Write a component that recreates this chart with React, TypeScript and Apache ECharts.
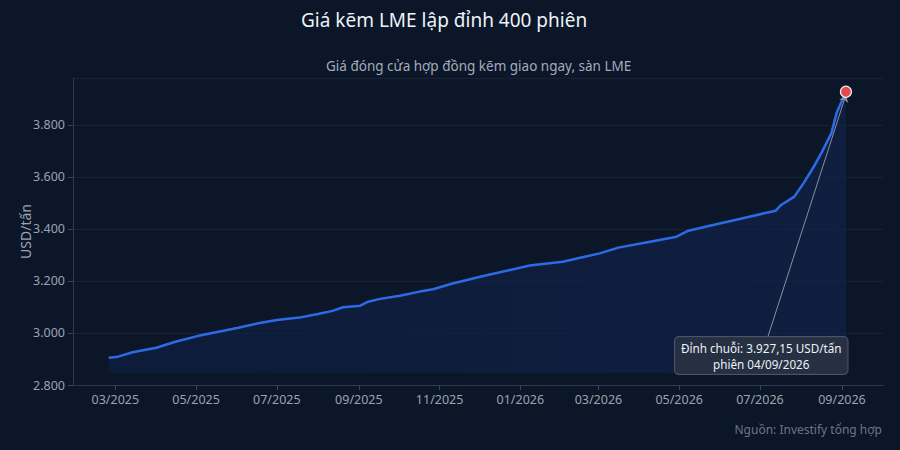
import React, { useEffect, useRef } from "react";
import * as echarts from "echarts";

const FONT = "'Noto Sans', 'Open Sans', sans-serif";
const BG = "#0b1628";
const LINE_COLOR = "#2f6ae6";

const TITLE = "Giá kẽm LME lập đỉnh 400 phiên";
const SUBTITLE = "Giá đóng cửa hợp đồng kẽm giao ngay, sàn LME";
const SOURCE = "Nguồn: Investify tổng hợp";
const Y_NAME = "USD/tấn";

// phiên (ngày) và giá đóng cửa
const DATES = [
    "2025-02-24", "2025-03-03", "2025-03-14", "2025-04-01", "2025-04-16",
    "2025-05-02", "2025-05-16", "2025-06-02", "2025-06-16", "2025-07-01",
    "2025-07-18", "2025-08-01", "2025-08-12", "2025-08-20", "2025-09-02",
    "2025-09-08", "2025-09-17", "2025-10-02", "2025-10-17", "2025-10-27",
    "2025-11-10", "2025-12-04", "2026-01-08", "2026-02-02", "2026-03-02",
    "2026-03-16", "2026-04-09", "2026-04-29", "2026-05-08", "2026-05-25",
    "2026-06-23", "2026-07-13", "2026-07-17", "2026-07-27", "2026-08-03",
    "2026-08-10", "2026-08-17", "2026-08-24", "2026-08-28", "2026-09-04",
];
const PRICES = [
    2905, 2909, 2926, 2943, 2967,
    2988, 3003, 3020, 3036, 3050,
    3059, 3073, 3085, 3099, 3105,
    3120, 3131, 3143, 3159, 3168,
    3189, 3219, 3259, 3274, 3306,
    3328, 3351, 3370, 3393, 3413,
    3447, 3470, 3492, 3524, 3576,
    3633, 3697, 3768, 3846, 3927.15,
];

const X_TICKS = [
    "2025-03-01", "2025-05-01", "2025-07-01", "2025-09-01", "2025-11-01",
    "2026-01-01", "2026-03-01", "2026-05-01", "2026-07-01", "2026-09-01",
];
const X_MIN = "2025-01-28";
const X_MAX = "2026-10-02";
const Y_MIN = 2800;
const Y_MAX = 3980;
const Y_STEP = 200;
const FILL_BASE = 2847;

const PEAK_DATE = "2026-09-04";
const PEAK_VALUE = 3927.15;
const NOTE_LINES = ["Đỉnh chuỗi: 3.927,15 USD/tấn", "phiên 04/09/2026"];
const NOTE_AT: [string, number] = ["2026-07-02", 2913];
const ARROW_FROM: [string, number] = ["2026-07-07", 2985];

const ts = (d: string) => new Date(d + "T00:00:00Z").getTime();

function fmtNum(v: number) {
    return String(Math.round(v)).replace(/\B(?=(\d{3})+(?!\d))/g, ".");
}

function fmtMonth(v: number) {
    const d = new Date(v + 12 * 3600 * 1000);
    const m = String(d.getUTCMonth() + 1).padStart(2, "0");
    return `${m}/${d.getUTCFullYear()}`;
}

const App: React.FC = () => {
    const ref = useRef<HTMLDivElement | null>(null);

    useEffect(() => {
        if (!ref.current) return;
        const inst = echarts.init(ref.current, undefined, { renderer: "svg" });
        const series = DATES.map((d, i) => [ts(d), PRICES[i]]);
        const tickVals = X_TICKS.map(ts);

        inst.setOption({
            animation: false,
            backgroundColor: BG,
            textStyle: { fontFamily: FONT },
            title: [
                {
                    text: TITLE,
                    left: 296,
                    top: 5,
                    textStyle: { color: "#eef2f7", fontSize: 19, fontWeight: 400, fontFamily: FONT },
                },
                {
                    text: SUBTITLE,
                    left: 321,
                    top: 54,
                    textStyle: { color: "#a3acbb", fontSize: 13.5, fontWeight: 400, fontFamily: FONT },
                },
                {
                    text: SOURCE,
                    right: 13,
                    top: 418,
                    textStyle: { color: "#6b7588", fontSize: 12, fontWeight: 400, fontFamily: FONT },
                },
            ],
            grid: { left: 73, right: 17, top: 78, bottom: 65 },
            xAxis: {
                type: "value",
                min: ts(X_MIN),
                max: ts(X_MAX),
                axisLine: { show: true, lineStyle: { color: "#2c384c" } },
                axisTick: { show: true, customValues: tickVals, length: 5, lineStyle: { color: "#3a465a" } },
                axisLabel: {
                    customValues: tickVals,
                    formatter: (v: number) => fmtMonth(v),
                    color: "#9aa3b2",
                    fontSize: 12.5,
                    margin: 8,
                    showMinLabel: true,
                    showMaxLabel: true,
                },
                splitLine: { show: false },
            },
            yAxis: {
                type: "value",
                min: Y_MIN,
                max: Y_MAX,
                interval: Y_STEP,
                name: Y_NAME,
                nameLocation: "middle",
                nameGap: 41,
                nameMoveOverlap: false,
                nameTextStyle: { color: "#9aa3b2", fontSize: 14, fontFamily: FONT },
                axisLine: { show: true, lineStyle: { color: "#2c384c" } },
                axisTick: { show: true, length: 5, lineStyle: { color: "#3a465a" } },
                axisLabel: {
                    color: "#9aa3b2",
                    fontSize: 12.5,
                    margin: 8,
                    showMaxLabel: false,
                    formatter: (v: number) => (v >= Y_MAX ? "" : fmtNum(v)),
                },
                splitLine: { show: true, lineStyle: { color: "#162236", width: 1 } },
            },
            series: [
                {
                    type: "line",
                    data: series,
                    showSymbol: false,
                    smooth: false,
                    lineStyle: { color: LINE_COLOR, width: 2.5 },
                    areaStyle: {
                        origin: FILL_BASE,
                        color: new echarts.graphic.LinearGradient(0, 0, 1, 0, [
                            { offset: 0, color: "#0f1e42" },
                            { offset: 1, color: "#112249" },
                        ]),
                    },
                    markLine: {
                        silent: true,
                        symbol: ["none", "arrow"],
                        symbolSize: 7,
                        lineStyle: { color: "#8790a0", width: 1, type: "solid" },
                        label: { show: false },
                        data: [[{ coord: [ts(ARROW_FROM[0]), ARROW_FROM[1]] }, { coord: [ts(PEAK_DATE), PEAK_VALUE - 12] }]],
                    },
                    markPoint: {
                        silent: true,
                        data: [
                            {
                                coord: [ts(PEAK_DATE), PEAK_VALUE],
                                symbol: "circle",
                                symbolSize: 11,
                                itemStyle: { color: "#e5484d", borderColor: "#f1f1f1", borderWidth: 1.2 },
                                label: { show: false },
                            },
                            {
                                coord: [ts(NOTE_AT[0]), NOTE_AT[1]],
                                symbol: "circle",
                                symbolSize: 0,
                                label: {
                                    show: true,
                                    position: "inside",
                                    formatter: NOTE_LINES.join("\n"),
                                    color: "#eef2f7",
                                    fontSize: 11.7,
                                    lineHeight: 16,
                                    align: "center",
                                    verticalAlign: "middle",
                                    backgroundColor: "rgba(40,50,68,0.9)",
                                    borderColor: "#4a5567",
                                    borderWidth: 1,
                                    borderRadius: 4,
                                    padding: [3, 6, 2, 6],
                                    fontFamily: FONT,
                                },
                            },
                        ],
                    },
                },
            ],
        });

        return () => inst.dispose();
    }, []);

    return (
        <div style={{ position: "fixed", left: 0, top: 0, width: 900, height: 450, background: BG }}>
            <div ref={ref} style={{ width: 900, height: 450 }} />
        </div>
    );
};

export default App;
